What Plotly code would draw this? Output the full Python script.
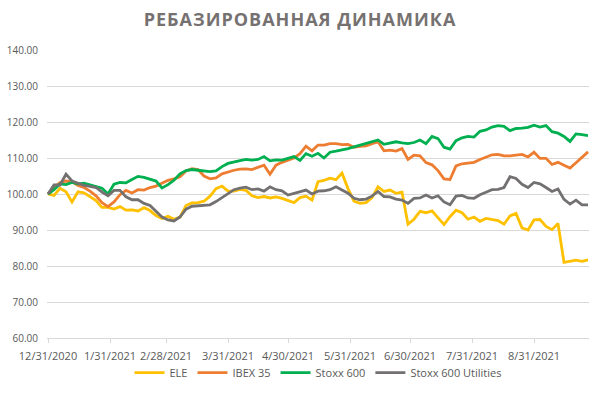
import pandas as pd
import plotly.graph_objects as go

# sampling grid: every 3 calendar days from 12/31/2020
dates = pd.date_range("2020-12-31", periods=91, freq="3D")

ele = [100.0, 99.6, 101.6, 100.6, 97.8, 100.6, 100.3, 99.3, 98.2, 96.3,
       96.3, 95.8, 96.5, 95.5, 95.6, 95.3, 96.2, 95.4, 94.0, 93.2,
       93.8, 93.0, 93.6, 96.8, 97.5, 97.6, 98.0, 99.4, 101.5, 102.2,
       100.8, 100.8, 101.3, 101.0, 99.5, 99.0, 99.3, 98.9, 99.2, 98.8,
       98.3, 97.6, 99.0, 99.4, 98.3, 103.4, 103.8, 104.4, 104.0, 105.8,
       101.5, 98.0, 97.4, 97.6, 99.0, 102.0, 100.7, 101.1, 100.2, 100.5,
       91.6, 93.0, 95.2, 94.8, 95.3, 93.3, 91.5, 93.7, 95.5, 94.8,
       93.0, 93.6, 92.4, 93.2, 92.8, 92.6, 91.6, 93.9, 94.6, 90.6,
       90.0, 92.8, 92.9, 91.0, 90.1, 91.8, 81.0, 81.2, 81.6, 81.3, 81.7]

ibex = [100.0, 101.8, 103.2, 103.6, 103.4, 102.4, 101.8, 100.8, 99.5, 97.6,
        96.5, 97.8, 99.8, 101.0, 100.3, 101.2, 101.1, 101.8, 102.2, 103.0,
        103.8, 104.2, 104.8, 106.4, 107.0, 106.8, 105.0, 104.2, 104.5, 105.6,
        106.2, 106.6, 106.9, 107.0, 106.8, 107.5, 108.0, 105.5, 108.0, 108.8,
        109.3, 110.0, 111.2, 113.3, 112.0, 113.6, 113.6, 114.0, 114.0, 113.7,
        113.8, 113.0, 113.2, 113.4, 114.0, 114.5, 112.0, 112.2, 111.9, 112.6,
        109.6, 110.8, 110.6, 108.7, 108.1, 106.5, 104.2, 104.0, 107.8, 108.4,
        108.6, 108.8, 109.6, 110.2, 110.9, 111.0, 110.6, 110.6, 110.8, 111.0,
        110.3, 111.6, 109.9, 109.9, 108.2, 108.8, 108.0, 107.2, 108.7, 110.2, 111.7]

stoxx600 = [100.0, 101.2, 102.8, 102.6, 103.2, 102.8, 103.0, 102.6, 102.1, 101.6,
            100.0, 102.7, 103.2, 103.1, 104.0, 104.9, 104.6, 104.0, 103.6, 101.7,
            102.6, 103.8, 105.6, 106.5, 106.8, 106.6, 106.3, 106.2, 106.4, 107.6,
            108.5, 109.0, 109.3, 109.6, 109.4, 109.6, 110.4, 109.2, 109.5, 109.4,
            110.0, 110.4, 109.3, 111.2, 110.5, 111.3, 110.0, 111.6, 111.9, 112.2,
            112.6, 113.1, 113.6, 114.0, 114.5, 115.0, 113.8, 114.2, 114.5, 114.2,
            114.0, 114.3, 115.0, 114.0, 116.0, 115.4, 113.0, 112.5, 114.8, 115.6,
            116.0, 115.8, 117.4, 117.8, 118.6, 119.0, 118.8, 117.6, 118.2, 118.3,
            118.5, 119.1, 118.6, 119.0, 117.3, 116.9, 116.0, 114.6, 116.7, 116.5, 116.2]

utilities = [100.0, 102.5, 102.5, 105.5, 103.6, 103.0, 102.4, 102.1, 101.8, 100.5,
             99.5, 101.0, 101.0, 99.2, 98.4, 98.4, 97.4, 96.8, 95.2, 93.6,
             92.8, 92.5, 93.6, 95.8, 96.6, 96.8, 96.9, 97.0, 97.9, 99.0,
             99.9, 101.2, 101.6, 101.9, 101.2, 101.4, 100.8, 102.0, 101.2, 100.9,
             99.7, 100.2, 100.6, 101.1, 100.0, 100.8, 100.9, 101.2, 102.0, 101.0,
             100.2, 98.8, 98.4, 98.6, 99.4, 100.7, 99.3, 99.2, 98.6, 98.3,
             97.4, 98.8, 98.9, 99.7, 98.9, 99.5, 97.8, 97.0, 99.4, 99.6,
             98.9, 98.8, 99.8, 100.5, 101.2, 101.3, 101.8, 104.8, 104.3, 102.7,
             101.8, 103.2, 102.8, 101.8, 100.7, 101.4, 98.5, 97.2, 98.3, 97.0, 97.0]

series_names = ["ELE", "IBEX 35", "Stoxx 600", "Stoxx 600 Utilities"]
series_colors = ["#FFC000", "#ED7D31", "#00B050", "#737070"]

tick_dates = ["2020-12-31", "2021-01-31", "2021-02-28", "2021-03-31", "2021-04-30",
              "2021-05-31", "2021-06-30", "2021-07-31", "2021-08-31"]
tick_labels = ["12/31/2020", "1/31/2021", "2/28/2021", "3/31/2021", "4/30/2021",
               "5/31/2021", "6/30/2021", "7/31/2021", "8/31/2021"]

fig = go.Figure()
for name, vals, col in zip(series_names, [ele, ibex, stoxx600, utilities], series_colors):
    fig.add_trace(go.Scatter(x=dates, y=vals, mode="lines", name=name,
                             line=dict(color=col, width=2.8)))

fig.update_layout(
    width=600, height=396,
    paper_bgcolor="white", plot_bgcolor="white",
    margin=dict(l=47, r=11, t=50, b=58, autoexpand=False),
    title=dict(text="<b><span style='letter-spacing:1px'>РЕБАЗИРОВАННАЯ ДИНАМИКА</span></b>",
               x=0.5, xanchor="center", y=1 - 20 / 396, yanchor="middle",
               font=dict(family="Open Sans", size=18, color="#767171")),
    font=dict(family="Open Sans", size=11, color="#595959"),
    showlegend=True,
    legend=dict(orientation="h", x=0.5, xanchor="center", y=-0.07, yanchor="top",
                font=dict(family="Open Sans", size=11, color="#595959"),
                itemwidth=30, bgcolor="rgba(0,0,0,0)"),
)
fig.update_xaxes(
    type="date", range=["2020-12-30 12:00", "2021-09-27 12:00"], automargin=False,
    tickvals=tick_dates, ticktext=tick_labels, tickangle=0,
    showgrid=False, showline=True, linecolor="#d9d9d9", linewidth=1,
    ticks="outside", ticklen=4, tickcolor="#d9d9d9", ticklabelstandoff=4,
    tickfont=dict(family="Open Sans", size=11, color="#595959"),
)
fig.update_yaxes(
    range=[60, 140], dtick=10, tickformat=".2f", automargin=False,
    showgrid=True, gridcolor="#d9d9d9", gridwidth=1,
    zeroline=False, showline=False, ticklabelstandoff=8,
    tickfont=dict(family="Open Sans", size=10, color="#595959"),
)

fig.write_html("out.html", config={"displayModeBar": False},
               post_script="document.body.style.margin='0';document.body.style.overflow='hidden';")
